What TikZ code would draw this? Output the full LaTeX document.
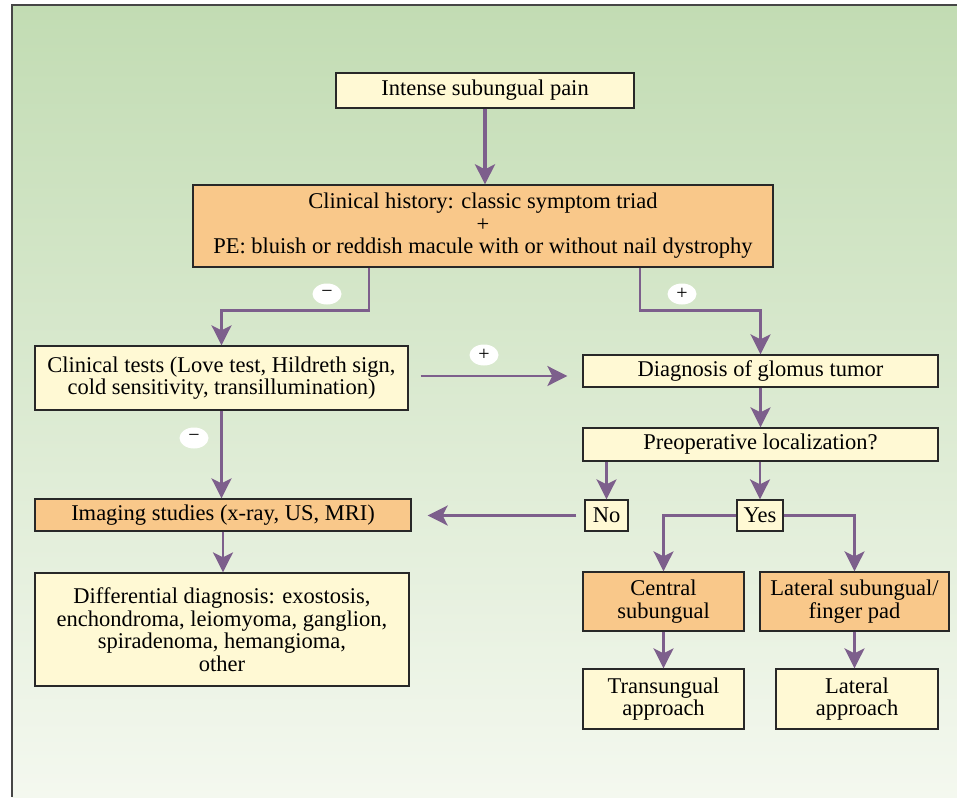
\documentclass[tikz,border=0pt]{standalone}
\usepackage{fontspec}
\setmainfont{Liberation Serif}
\usetikzlibrary{arrows.meta,shapes.geometric,calc}
\definecolor{bgtop}{RGB}{194,220,179}
\definecolor{bgbot}{RGB}{244,248,239}
\definecolor{ybox}{RGB}{255,249,212}
\definecolor{obox}{RGB}{249,200,138}
\definecolor{purp}{RGB}{125,95,140}
\definecolor{bord}{RGB}{40,40,40}
\definecolor{frame}{RGB}{70,70,70}
\tikzset{
  box/.style={draw=bord, line width=1.3pt, inner sep=0pt, align=center,
    font=\fontsize{22.5}{22.5}\selectfont},
  ybx/.style={box, fill=ybox},
  obx/.style={box, fill=obox},
  arr/.style={draw=purp, line width=2.6pt, -{Stealth[length=20pt,width=20pt,inset=5pt]}},
  sign/.style={ellipse, fill=white, minimum width=29pt, minimum height=21pt, inner sep=0pt,
    font=\fontsize{20}{20}\selectfont}
}
\begin{document}
\begin{tikzpicture}[x=1pt,y=-1pt]
\useasboundingbox (0,0) rectangle (957,797);
\shade[top color=bgtop, bottom color=bgbot] (12,5) rectangle (957,797);
\draw[frame, line width=2pt] (12,797) -- (12,5) -- (957,5);

\node[ybx, minimum width=298pt, minimum height=35pt] (pain) at (485,90.5) {Intense subungual pain};
\node[obx, minimum width=580pt, minimum height=82pt] (hist) at (483,226) {Clinical history: classic symptom triad\\+\\PE: bluish or reddish macule with or without nail dystrophy};
\node[ybx, minimum width=373pt, minimum height=64pt] (tests) at (221.5,378) {Clinical tests (Love test, Hildreth sign,\\cold sensitivity, transillumination)};
\node[ybx, minimum width=355pt, minimum height=32pt] (diag) at (760.5,371) {Diagnosis of glomus tumor};
\node[ybx, minimum width=355pt, minimum height=33pt] (preop) at (760.5,444.5) {Preoperative localization?};
\node[ybx, minimum width=43pt, minimum height=31pt] (no) at (606.5,515.5) {No};
\node[ybx, minimum width=46pt, minimum height=31pt] (yes) at (760,515.5) {Yes};
\node[obx, minimum width=376pt, minimum height=32pt] (img) at (223,515) {Imaging studies (x-ray, US, MRI)};
\node[ybx, minimum width=374pt, minimum height=113pt] (diff) at (222,629.5) {Differential diagnosis: exostosis,\\enchondroma, leiomyoma, ganglion,\\spiradenoma, hemangioma,\\other};
\node[obx, minimum width=161pt, minimum height=59pt] (central) at (663.5,601.5) {Central\\subungual};
\node[obx, minimum width=189pt, minimum height=59pt] (lateral) at (854.5,601.5) {Lateral subungual/\\finger pad};
\node[ybx, minimum width=161pt, minimum height=60pt] (trans) at (663.5,699) {Transungual\\approach};
\node[ybx, minimum width=162pt, minimum height=60pt] (latapp) at (857,699) {Lateral\\approach};

\draw[arr, line width=4pt] (pain.south) -- (pain.south |- hist.north);
\draw[arr] (hist.south -| 369,0) -- ++(0,43) -| (tests.north);
\draw[arr] (hist.south -| 640,0) -- ++(0,43) -| (diag.north);
\draw[arr, shorten <=12pt, shorten >=15pt] (tests.east |- 0,376) -- (diag.west |- 0,376);
\draw[arr] (tests.south) -- (tests.south |- img.north);
\draw[arr] (diag.south) -- (preop.north);
\draw[arr] (no.north |- preop.south) -- (no.north);
\draw[arr] (yes.north |- preop.south) -- (yes.north);
\draw[arr, shorten <=8pt, shorten >=16pt] (no.west) -- (no.west -| img.east);
\draw[arr] (yes.west) -| (central.north);
\draw[arr] (yes.east) -| (lateral.north);
\draw[arr] (img.south) -- (img.south |- diff.north);
\draw[arr] (central.south) -- (trans.north);
\draw[arr] (lateral.south) -- (lateral.south |- latapp.north);

\node[sign] (m1) at (327,294) {−};
\node[sign] (p1) at (682,294) {+};
\node[sign] (p2) at (484,355) {+};
\node[sign] (m2) at (194,438) {−};
\end{tikzpicture}
\end{document}
